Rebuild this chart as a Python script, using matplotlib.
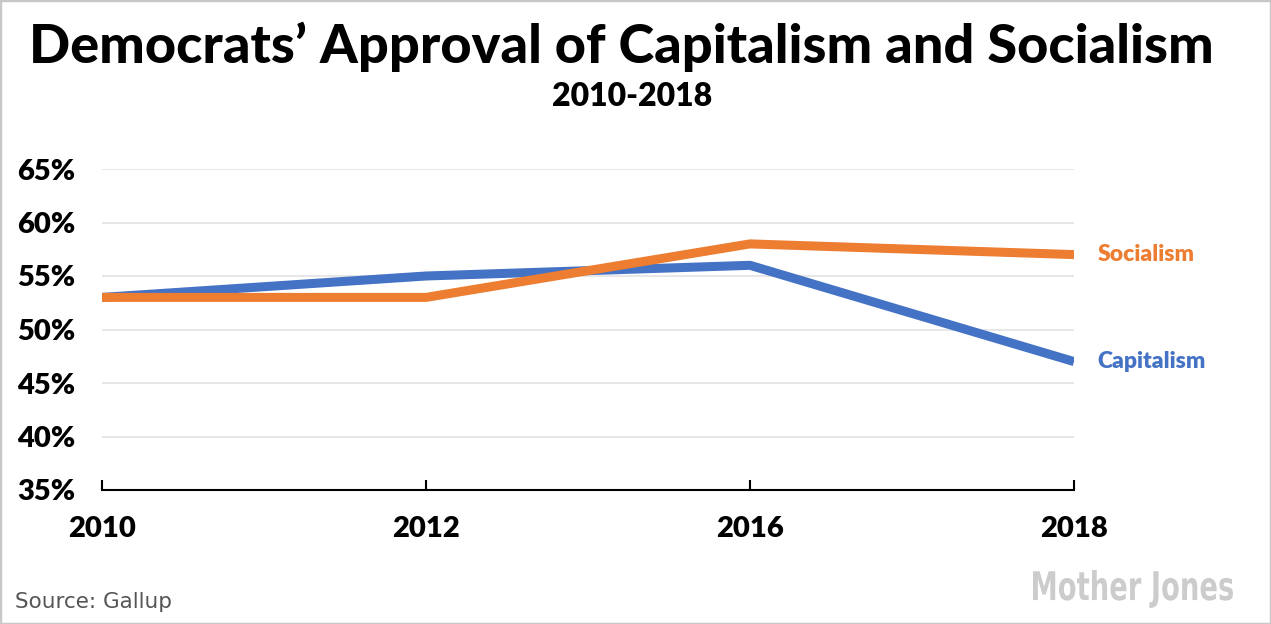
import matplotlib as mpl
mpl.use('Agg')
import matplotlib.pyplot as plt
from matplotlib.patches import Rectangle, PathPatch
from matplotlib.textpath import TextPath
from matplotlib.font_manager import FontProperties
from matplotlib.transforms import Affine2D, IdentityTransform

years = ['2010', '2012', '2016', '2018']
capitalism = [53, 55, 56, 47]
socialism = [53, 53, 58, 57]
y_ticks = [35, 40, 45, 50, 55, 60, 65]

orange = '#ED7D31'
blue = '#4472C4'

plt.rcParams['font.family'] = ['Lato', 'DejaVu Sans']

W, H = 1271, 624
fig = plt.figure(figsize=(W / 100, H / 100), dpi=100)
ax = fig.add_axes([102 / W, 1 - 490 / H, (1074 - 102) / W, (490 - 169) / H])

x = range(len(years))
ax.plot(x, capitalism, color=blue, lw=6.5, solid_capstyle='butt', zorder=3)
ax.plot(x, socialism, color=orange, lw=6.5, solid_capstyle='butt', zorder=4)

ax.set_xlim(0, len(years) - 1)
ax.set_ylim(35, 65)
ax.set_yticks(y_ticks)
ax.set_yticklabels(['%d%%' % v for v in y_ticks])
ax.set_xticks(list(x))
ax.set_xticklabels(years)

# grid
for v in y_ticks[1:]:
    ax.axhline(v, color='#e3e3e3', lw=1.2, zorder=1)

for s in ['top', 'right', 'left']:
    ax.spines[s].set_visible(False)
ax.spines['bottom'].set_color('black')
ax.spines['bottom'].set_linewidth(1.5)
ax.tick_params(axis='x', direction='in', length=7, width=1.5, pad=19, labelsize=21)
ax.tick_params(axis='y', length=0, pad=19, labelsize=21)
for t in ax.get_xticklabels() + ax.get_yticklabels():
    t.set_fontweight('heavy')

# end labels
ax.text(1.024, (57 - 35) / 30, 'Socialism', transform=ax.transAxes, color=orange,
        fontsize=16.5, fontweight='heavy', va='center', ha='left')
ax.text(1.024, (47 - 35) / 30, 'Capitalism', transform=ax.transAxes, color=blue,
        fontsize=16.5, fontweight='heavy', va='center', ha='left')

fig.text(0.489, 1 - 47 / H, 'Democrats’ Approval of Capitalism and Socialism',
         fontsize=39, fontweight='black', ha='center', va='center')
fig.text(0.497, 1 - 97 / H, '2010-2018', fontsize=23, fontweight='heavy',
         ha='center', va='center')

fig.text(15 / W, 1 - 602 / H, 'Source: Gallup', fontsize=15.5, color='#555555',
         family=['DejaVu Sans'], ha='left', va='center')

# logo, squeezed into its box
tp = TextPath((0, 0), 'Mother Jones', size=50,
              prop=FontProperties(family='DejaVu Sans', weight='bold'))
bb = tp.get_extents()
x0, x1, y0, y1 = 1033, 1233, 16, 54
tr = Affine2D().translate(-bb.x0, -bb.y0).scale((x1 - x0) / bb.width, (y1 - y0) / bb.height).translate(x0, y0)
fig.patches.append(PathPatch(tr.transform_path(tp), transform=IdentityTransform(),
                             facecolor='#cccccc', edgecolor='none'))

fig.patches.append(Rectangle((0, 0), 1, 1, transform=fig.transFigure, fill=False,
                             edgecolor='#c8c8c8', lw=2.5))

plt.savefig('out.png', dpi=100)
